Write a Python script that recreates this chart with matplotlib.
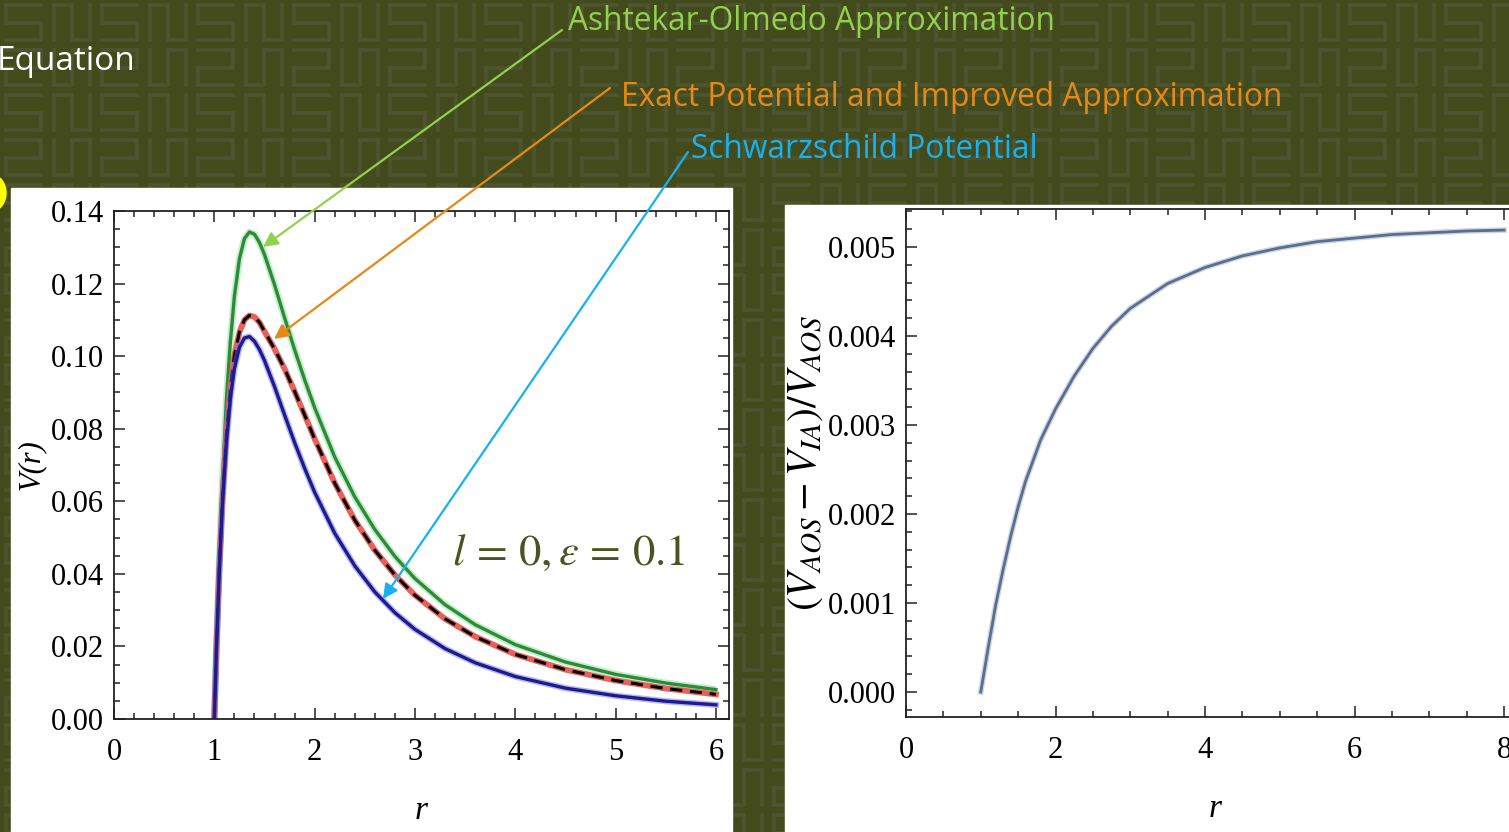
import matplotlib
matplotlib.use("Agg")
import matplotlib.pyplot as plt
from matplotlib.patches import Rectangle, Ellipse
from matplotlib.ticker import MultipleLocator, FormatStrFormatter

# ---- values ----
# left panel: effective potentials, l = 0, eps = 0.1
r_left = [1.0, 1.02, 1.05, 1.08, 1.12, 1.16, 1.2, 1.25, 1.3, 1.35, 1.4, 1.45, 1.5,
          1.6, 1.7, 1.8, 1.9, 2.0, 2.2, 2.4, 2.6, 2.8, 3.0, 3.3, 3.6, 4.0, 4.5,
          5.0, 5.5, 6.0]
v_schw = [0.0, 0.0185, 0.0411, 0.0588, 0.0763, 0.0884, 0.0965, 0.1024, 0.1050,
          0.1054, 0.1041, 0.1018, 0.0988, 0.0916, 0.0838, 0.0762, 0.0691, 0.0625,
          0.0512, 0.0422, 0.0350, 0.0293, 0.0247, 0.0194, 0.0155, 0.0117, 0.0085,
          0.0064, 0.0049, 0.0039]
v_aos = [0.0, 0.019, 0.044, 0.065, 0.088, 0.104, 0.1165, 0.1268, 0.1324, 0.1342,
         0.1336, 0.1313, 0.1280, 0.1197, 0.1106, 0.1018, 0.0935, 0.0858, 0.0722,
         0.0612, 0.0522, 0.0448, 0.0387, 0.0315, 0.0260, 0.0205, 0.0157, 0.0123,
         0.0099, 0.0081]
v_exact = [0.0, 0.0187, 0.042, 0.0605, 0.0785, 0.0912, 0.1002, 0.1066, 0.1100,
           0.1112, 0.1108, 0.1093, 0.1068, 0.1020, 0.0965, 0.0903, 0.0838, 0.0772,
           0.0650, 0.0548, 0.0465, 0.0397, 0.0341, 0.0276, 0.0227, 0.0178, 0.0136,
           0.0106, 0.0084, 0.0068]
v_improved = v_exact[:]  # sits right on top of the exact curve

# right panel: relative difference (V_AOS - V_IA) / V_AOS
r_right = [1.0, 1.05, 1.1, 1.2, 1.3, 1.4, 1.5, 1.6, 1.8, 2.0, 2.25, 2.5, 2.75,
           3.0, 3.5, 4.0, 4.5, 5.0, 5.5, 6.0, 6.5, 7.0, 7.5, 8.0]
rel_diff = [0.0, 0.00025, 0.0005, 0.00098, 0.00138, 0.00175, 0.00208, 0.00237,
            0.00283, 0.00318, 0.00355, 0.00386, 0.00411, 0.00431, 0.00459,
            0.00477, 0.0049, 0.00499, 0.00506, 0.0051, 0.00514, 0.00516,
            0.00518, 0.00519]

labels = ["Ashtekar-Olmedo Approximation",
          "Exact Potential and Improved Approximation",
          "Schwarzschild Potential"]

W, H = 1509, 832
BG = "#434b1d"
PATTERN = "#4d5430"
plt.rcParams["mathtext.fontset"] = "stix"


def px_axes(fig, x0, y0, x1, y1):
    # pixel box (top-left origin) -> figure axes
    return fig.add_axes([x0 / W, (H - y1) / H, (x1 - x0) / W, (y1 - y0) / H])


fig = plt.figure(figsize=(W / 100, H / 100), dpi=100, facecolor=BG)

# background with a rough meander pattern
bg = fig.add_axes([0, 0, 1, 1])
bg.set_xlim(0, W)
bg.set_ylim(H, 0)
bg.axis("off")
bg.set_facecolor(BG)
cw, ch = 48, 45
s_shape = [(0.85, 0.12), (0.12, 0.12), (0.12, 0.5), (0.85, 0.5), (0.85, 0.88), (0.12, 0.88)]
n_shape = [(0.12, 0.88), (0.12, 0.12), (0.5, 0.12), (0.5, 0.88), (0.88, 0.88), (0.88, 0.12)]
for row in range(H // ch + 2):
    for col in range(W // cw + 2):
        shape = s_shape if col % 2 == 0 else n_shape
        xs = [col * cw + p[0] * cw for p in shape]
        if row % 2 == 0:
            ys = [row * ch + p[1] * ch for p in shape]
        else:
            ys = [row * ch + (1 - p[1]) * ch for p in shape]
        bg.plot(xs, ys, color=PATTERN, lw=2.6, solid_joinstyle="miter")

bg.add_patch(Rectangle((11, 188), 721, 660, color="white", zorder=5))
bg.add_patch(Rectangle((785, 205), 740, 640, color="white", zorder=5))
bg.add_patch(Ellipse((-8, 193), 28, 36, color="#ffff00", zorder=5))

serif = "Liberation Serif"

# ---- left panel ----
ax = px_axes(fig, 114, 211, 729, 719)
ax.plot(r_left, v_aos, color="#9be39b", lw=5, alpha=0.6, solid_capstyle="butt")
ax.plot(r_left, v_aos, color="#2b8a3c", lw=2.4)
ax.plot(r_left, v_exact, color="#e8605a", lw=4.2)
ax.plot(r_left, v_improved, color="black", lw=2.2, dashes=(4, 2.5))
ax.plot(r_left, v_schw, color="#7070e0", lw=4.5, alpha=0.5)
ax.plot(r_left, v_schw, color="#1c1c8e", lw=2.4)
ax.set_xlim(0, 6.13)
ax.set_ylim(0, 0.14)
ax.xaxis.set_major_locator(MultipleLocator(1))
ax.xaxis.set_minor_locator(MultipleLocator(0.2))
ax.yaxis.set_major_locator(MultipleLocator(0.02))
ax.yaxis.set_minor_locator(MultipleLocator(0.005))
ax.yaxis.set_major_formatter(FormatStrFormatter("%.2f"))
ax.set_xlabel("r", fontsize=24, family=serif, style="italic", labelpad=20)
ax.set_ylabel("V(r)", fontsize=22, family=serif, style="italic", labelpad=4)

# ---- right panel ----
ax2 = px_axes(fig, 906, 209, 1525, 717)
ax2.plot(r_right, rel_diff, color="#b9c4d8", lw=4, alpha=0.7)
ax2.plot(r_right, rel_diff, color="#5a6e90", lw=2)
ax2.set_xlim(0, 8.28)
ax2.set_ylim(-0.000281, 0.005427)
ax2.xaxis.set_major_locator(MultipleLocator(2))
ax2.xaxis.set_minor_locator(MultipleLocator(0.5))
ax2.yaxis.set_major_locator(MultipleLocator(0.001))
ax2.yaxis.set_minor_locator(MultipleLocator(0.0002))
ax2.yaxis.set_major_formatter(FormatStrFormatter("%.3f"))
ax2.set_xlabel("r", fontsize=24, family=serif, style="italic", labelpad=20)
ax2.set_ylabel(r"$(V_{AOS}-V_{IA})/V_{AOS}$", fontsize=30, labelpad=2)

for a in (ax, ax2):
    a.set_facecolor("white")
    for sp in a.spines.values():
        sp.set_linewidth(1.3)
        sp.set_color("#222222")
    a.tick_params(which="both", direction="in", top=True, right=True,
                  labelsize=22, width=1.1, color="#222222")
    a.tick_params(which="major", length=8)
    a.tick_params(which="minor", length=4)
    a.tick_params(axis="x", which="major", pad=14)
    a.tick_params(axis="y", which="major", pad=7)
    for t in a.get_xticklabels() + a.get_yticklabels():
        t.set_family(serif)

# ---- overlay: slide labels and arrows ----
ov = fig.add_axes([0, 0, 1, 1], facecolor="none")
ov.set_xlim(0, W)
ov.set_ylim(H, 0)
ov.axis("off")

font = "Open Sans"
colors = ["#92d050", "#e58a17", "#18b2f0"]
text_pos = [(568, 22), (621, 97), (691, 149)]
tails = [(562, 30), (610, 88), (688, 152)]
heads = [(263, 247), (274, 339), (383, 599)]
for lab, c, tp, tail, head in zip(labels, colors, text_pos, tails, heads):
    ov.text(tp[0], tp[1], lab, color=c, fontsize=22.8, family=font,
            va="center", ha="left")
    ov.annotate("", xy=head, xytext=tail,
                arrowprops=dict(arrowstyle="-|>", color=c, lw=1.6,
                                mutation_scale=22, shrinkA=0, shrinkB=0))

ov.text(-3, 62, "Equation", color="white", fontsize=24, family=font,
        va="center", ha="left")
ov.text(452, 552, r"$l\,=\,0,\epsilon\,=\,0.1$", color="#4b5320", fontsize=32,
        va="center", ha="left")

fig.savefig("out.png", dpi=100, facecolor=BG)
